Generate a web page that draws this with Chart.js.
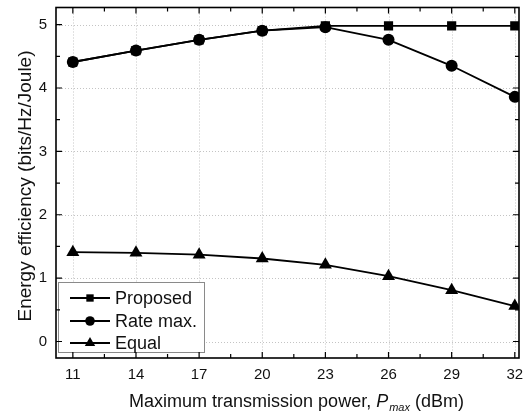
<!DOCTYPE html>
<html lang="en">
<head>
    <meta charset="UTF-8">
    <title>Energy efficiency</title>
    <style>
        html, body { margin: 0; padding: 0; background: #fff; }
        #wrap { width: 532px; height: 412px; }
    </style>
</head>
<body>
    <div id="wrap"><canvas id="eeChart" width="532" height="412"></canvas></div>

    <script src="https://cdn.jsdelivr.net/npm/chart.js"></script>
    <script>
        // data
        const powers = [11, 14, 17, 20, 23, 26, 29, 32];
        const proposed = [4.41, 4.59, 4.76, 4.905, 4.98, 4.98, 4.98, 4.98];
        const rateMax = [4.41, 4.59, 4.76, 4.905, 4.96, 4.76, 4.35, 3.86];
        const equal = [1.41, 1.40, 1.37, 1.31, 1.21, 1.03, 0.81, 0.56];
        const xTicks = [11, 14, 17, 20, 23, 26, 29, 32];
        const yTicks = [0, 1, 2, 3, 4, 5];

        const FONT = '"Liberation Sans", Arial, sans-serif';

        function pts(vals) {
            return vals.map((v, i) => ({ x: powers[i], y: v }));
        }

        // grid, frame, minor/major inward ticks
        const framePlugin = {
            id: 'frame',
            beforeDatasetsDraw(chart) {
                const { ctx, chartArea: a, scales: { x, y } } = chart;
                ctx.save();
                ctx.strokeStyle = '#c4c4c4';
                ctx.lineWidth = 1;
                ctx.setLineDash([1, 2]);
                xTicks.forEach(v => {
                    const px = Math.round(x.getPixelForValue(v)) + 0.5;
                    ctx.beginPath(); ctx.moveTo(px, a.top); ctx.lineTo(px, a.bottom); ctx.stroke();
                });
                yTicks.forEach(v => {
                    const py = Math.round(y.getPixelForValue(v)) + 0.5;
                    ctx.beginPath(); ctx.moveTo(a.left, py); ctx.lineTo(a.right, py); ctx.stroke();
                });
                ctx.restore();
            },
            afterDraw(chart) {
                const { ctx, chartArea: a, scales: { x, y } } = chart;
                ctx.save();
                ctx.strokeStyle = '#000';
                ctx.lineWidth = 1.6;
                ctx.setLineDash([]);
                ctx.strokeRect(a.left, a.top, a.right - a.left, a.bottom - a.top);
                ctx.lineWidth = 1.2;
                // x ticks, major at labels and minor halfway
                for (let v = 9.5; v <= 33; v += 1.5) {
                    if (v < x.min || v > x.max) continue;
                    const major = xTicks.includes(v);
                    const len = major ? 6 : 4;
                    const px = x.getPixelForValue(v);
                    ctx.beginPath();
                    ctx.moveTo(px, a.bottom); ctx.lineTo(px, a.bottom - len);
                    ctx.moveTo(px, a.top); ctx.lineTo(px, a.top + len);
                    ctx.stroke();
                }
                for (let v = 0; v <= 5; v += 0.5) {
                    const major = Number.isInteger(v);
                    const len = major ? 6 : 4;
                    const py = y.getPixelForValue(v);
                    ctx.beginPath();
                    ctx.moveTo(a.left, py); ctx.lineTo(a.left + len, py);
                    ctx.moveTo(a.right, py); ctx.lineTo(a.right - len, py);
                    ctx.stroke();
                }

                // axis titles
                ctx.fillStyle = '#111';
                ctx.textBaseline = 'alphabetic';
                const big = '18px ' + FONT;
                const bigIt = 'italic 18px ' + FONT;
                const sub = 'italic 11px ' + FONT;
                const t1 = 'Maximum transmission power, ';
                const t2 = 'P';
                const t3 = 'max';
                const t4 = ' (dBm)';
                ctx.font = big;
                const w1 = ctx.measureText(t1).width;
                const w4 = ctx.measureText(t4).width;
                ctx.font = bigIt;
                const w2 = ctx.measureText(t2).width;
                ctx.font = sub;
                const w3 = ctx.measureText(t3).width;
                const total = w1 + w2 + w3 + w4 + 1;
                let tx = 296.5 - total / 2;
                const base = 406.5;
                ctx.textAlign = 'left';
                ctx.font = big;
                ctx.fillText(t1, tx, base); tx += w1;
                ctx.font = bigIt;
                ctx.fillText(t2, tx, base); tx += w2 + 1;
                ctx.font = sub;
                ctx.fillText(t3, tx, base + 4); tx += w3;
                ctx.font = big;
                ctx.fillText(t4, tx, base);

                ctx.save();
                ctx.translate(31, 186);
                ctx.rotate(-Math.PI / 2);
                ctx.textAlign = 'center';
                ctx.font = '19px ' + FONT;
                ctx.fillText('Energy efficiency (bits/Hz/Joule)', 0, 0);
                ctx.restore();
                ctx.restore();
            }
        };

        // legend box drawn inside the plot, lower left
        const legendPlugin = {
            id: 'insideLegend',
            afterDatasetsDraw(chart) {
                const { ctx } = chart;
                const bx = 58.5, by = 282.5, bw = 146, bh = 70;
                ctx.save();
                ctx.fillStyle = '#fff';
                ctx.fillRect(bx, by, bw, bh);
                ctx.strokeStyle = '#8a8a8a';
                ctx.lineWidth = 1;
                ctx.strokeRect(bx, by, bw, bh);
                const rows = [298, 321, 343];
                chart.data.datasets.forEach((ds, i) => {
                    const ry = rows[i];
                    ctx.strokeStyle = '#000';
                    ctx.lineWidth = 1.8;
                    ctx.beginPath(); ctx.moveTo(70, ry); ctx.lineTo(110, ry); ctx.stroke();
                    ctx.fillStyle = '#000';
                    Chart.helpers.drawPoint(ctx, {
                        pointStyle: ds.pointStyle,
                        radius: ds.pointRadius * 0.8,
                        borderWidth: 0
                    }, 90, ry);
                    ctx.font = '18px ' + FONT;
                    ctx.fillStyle = '#111';
                    ctx.textAlign = 'left';
                    ctx.textBaseline = 'middle';
                    ctx.fillText(ds.label, 115, ry + 1);
                });
                ctx.restore();
            }
        };

        const common = {
            borderColor: '#000',
            backgroundColor: '#000',
            pointBackgroundColor: '#000',
            pointBorderColor: '#000',
            borderWidth: 1.8,
            pointBorderWidth: 0,
            showLine: true,
            tension: 0
        };

        function noEdgePad(s) {
            s.paddingTop = 0; s.paddingBottom = 0;
            s.paddingLeft = 0; s.paddingRight = 0;
        }

        new Chart(document.getElementById('eeChart'), {
            type: 'scatter',
            data: {
                datasets: [
                    Object.assign({ label: 'Proposed', data: pts(proposed), pointStyle: 'rect', pointRadius: 6.5, order: 2 }, common),
                    Object.assign({ label: 'Rate max.', data: pts(rateMax), pointStyle: 'circle', pointRadius: 6, order: 1 }, common),
                    Object.assign({ label: 'Equal', data: pts(equal), pointStyle: 'triangle', pointRadius: 7.5, order: 0 }, common)
                ]
            },
            options: {
                responsive: false,
                animation: false,
                events: [],
                layout: { padding: { left: 0, top: 7, right: 13, bottom: 0 } },
                plugins: { legend: { display: false }, tooltip: { enabled: false } },
                scales: {
                    x: {
                        type: 'linear',
                        min: 10.2,
                        max: 32.2,
                        grid: { display: false, drawTicks: false, tickLength: 0 },
                        border: { display: false },
                        afterBuildTicks: s => { s.ticks = xTicks.map(v => ({ value: v })); },
                        afterFit: s => { s.height = 54; noEdgePad(s); },
                        ticks: { color: '#111', font: { family: FONT, size: 15 }, padding: 8, maxRotation: 0 }
                    },
                    y: {
                        min: -0.26,
                        max: 5.27,
                        grid: { display: false, drawTicks: false, tickLength: 0 },
                        border: { display: false },
                        afterBuildTicks: s => { s.ticks = yTicks.map(v => ({ value: v })); },
                        afterFit: s => { s.width = 56; noEdgePad(s); },
                        ticks: { color: '#111', font: { family: FONT, size: 15 }, padding: 9 }
                    }
                }
            },
            plugins: [framePlugin, legendPlugin]
        });
    </script>
</body>
</html>
